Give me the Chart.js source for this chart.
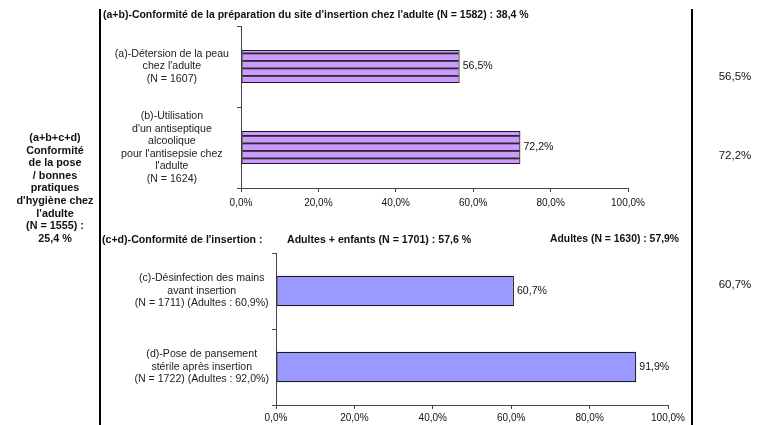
<!DOCTYPE html>
<html>
<head>
<meta charset="utf-8">
<script src="https://cdn.jsdelivr.net/npm/chart.js@4/dist/chart.umd.min.js"></script>
<style>
  html, body { margin: 0; padding: 0; background: #fff; }
  #wrap { position: relative; width: 771px; height: 425px; overflow: hidden; font-family: "Liberation Sans", Arial, sans-serif; color: #111; }
  canvas { position: absolute; left: 0; top: 0; }
  .t { position: absolute; font-size: 10.6px; white-space: nowrap; line-height: 12.6px; }
  .b { font-weight: bold; }
  .vline { position: absolute; width: 2px; background: #000; }
</style>
</head>
<body>
<div id="wrap">
  <canvas id="c1" width="771" height="425"></canvas>
  <canvas id="c2" width="771" height="425"></canvas>
  <div class="vline" style="left:99px; top:9px; height:416px;"></div>
  <div class="vline" style="left:691px; top:9px; height:416px;"></div>
  <div class="t b" style="left:103px; top:8px; font-size:10.5px;">(a+b)-Conformité de la préparation du site d'insertion chez l'adulte (N = 1582) : 38,4 %</div>
  <div class="t b" style="left:102px; top:233px;">(c+d)-Conformité de l'insertion :</div>
  <div class="t b" style="left:287px; top:233px;">Adultes + enfants (N = 1701) : 57,6 %</div>
  <div class="t b" style="left:550px; top:233px; font-size:10.4px;">Adultes (N = 1630) : 57,9%</div>
  <div class="t b" style="left:5px; top:131px; width:100px; text-align:center; font-size:10.8px;">(a+b+c+d)<br>Conformité<br>de la pose<br>/ bonnes<br>pratiques<br>d'hygiène chez<br>l'adulte<br>(N = 1555) :<br>25,4 %</div>
  <div class="t" style="left:705px; top:70px; width:60px; text-align:center; font-size:11.5px;">56,5%</div>
  <div class="t" style="left:705px; top:149px; width:60px; text-align:center; font-size:11.5px;">72,2%</div>
  <div class="t" style="left:705px; top:278px; width:60px; text-align:center; font-size:11.5px;">60,7%</div>
</div>
<script>
// ---- data ----
const topCategories = [
  ["(a)-Détersion de la peau", "chez l'adulte", "(N = 1607)"],
  ["(b)-Utilisation", "d'un antiseptique", "alcoolique", "pour l'antisepsie chez", "l'adulte", "(N = 1624)"]
];
const topValues = [56.5, 72.2];
const bottomCategories = [
  ["(c)-Désinfection des mains", "avant insertion", "(N = 1711) (Adultes : 60,9%)"],
  ["(d)-Pose de pansement", "stérile après insertion", "(N = 1722) (Adultes : 92,0%)"]
];
const bottomValues = [60.7, 91.9];
const xTicks = [0, 20, 40, 60, 80, 100];

const FONT = '"Liberation Sans", Arial, sans-serif';
const fmt1 = v => v.toFixed(1).replace('.', ',') + '%';

function stripePattern() {
  const c = document.createElement('canvas');
  c.width = 8; c.height = 15;
  const g = c.getContext('2d');
  g.fillStyle = '#CC99FF';
  g.fillRect(0, 0, 8, 15);
  g.fillStyle = '#2a2a2a';
  g.fillRect(0, 0, 8, 1.8);
  g.fillRect(0, 7.5, 8, 1.8);
  return g.createPattern(c, 'repeat');
}

const valueLabels = {
  id: 'valueLabels',
  afterDatasetsDraw(chart) {
    const ctx = chart.ctx;
    ctx.save();
    ctx.font = '10.6px ' + FONT;
    ctx.fillStyle = '#111';
    ctx.textBaseline = 'middle';
    ctx.textAlign = 'left';
    chart.getDatasetMeta(0).data.forEach((bar, i) => {
      ctx.fillText(fmt1(chart.data.datasets[0].data[i]), bar.x + 3, bar.y);
    });
    ctx.restore();
  }
};

function makeChart(id, cats, vals, fill, area, barPct, tickPad, labelPad) {
  return new Chart(document.getElementById(id), {
    type: 'bar',
    data: {
      labels: cats,
      datasets: [{
        data: vals,
        backgroundColor: fill,
        borderColor: '#1a1a1a',
        borderWidth: 1.2,
        borderSkipped: false,
        barPercentage: barPct,
        categoryPercentage: 1
      }]
    },
    options: {
      indexAxis: 'y',
      responsive: false,
      animation: false,
      devicePixelRatio: 1,
      layout: { padding: { top: area.top, right: 771 - area.right, left: 0, bottom: 0 } },
      plugins: { legend: { display: false }, tooltip: { enabled: false } },
      scales: {
        x: {
          min: 0, max: 100,
          afterBuildTicks: s => { s.ticks = xTicks.map(v => ({ value: v })); },
          afterFit: s => { s.height = 425 - area.bottom; s.paddingLeft = 0; s.paddingRight = 0; },
          grid: { drawOnChartArea: false, tickLength: 4, color: '#444' },
          border: { color: '#444', width: 1 },
          ticks: { callback: v => fmt1(v), font: { family: FONT, size: 10 }, color: '#111', padding: tickPad, maxRotation: 0 }
        },
        y: {
          afterFit: s => { s.width = area.left; s.paddingTop = 0; s.paddingBottom = 0; },
          grid: { drawOnChartArea: false, tickLength: 4, color: '#444', offset: true },
          border: { color: '#444', width: 1 },
          ticks: { font: { family: FONT, size: 10.6, lineHeight: 1.18 }, color: '#222', crossAlign: 'center', padding: labelPad, autoSkip: false }
        }
      }
    },
    plugins: [valueLabels]
  });
}

makeChart('c1', topCategories, topValues, stripePattern(), { left: 241, right: 628, top: 26, bottom: 188 }, 0.41, 5, 8);
makeChart('c2', bottomCategories, bottomValues, '#9999FF', { left: 276, right: 668, top: 253, bottom: 405 }, 0.40, 3, 3);
</script>
</body>
</html>
